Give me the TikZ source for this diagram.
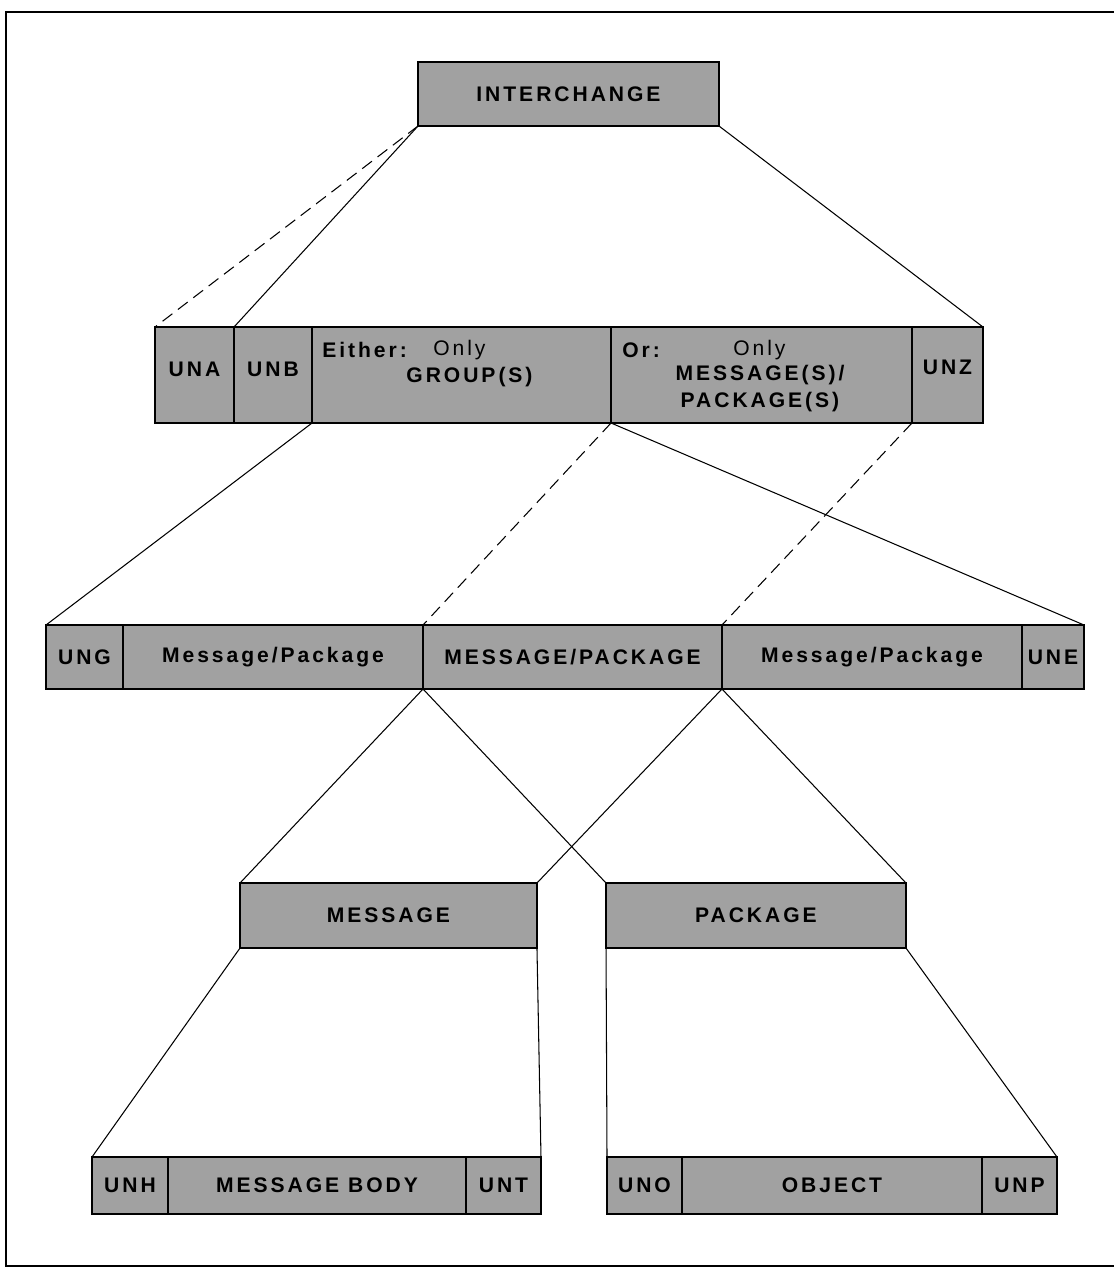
\documentclass[tikz,border=0pt]{standalone}
\usepackage{fontspec}
\setmainfont{Liberation Sans}[LetterSpace=14]
\usepackage{tikz}

\tikzset{
  cell/.style={shape=rectangle,draw=black,line width=0.8pt,fill=black!37,inner sep=0pt,outer sep=0pt,font=\bfseries},
  word/.style={inner sep=0pt,font=\bfseries},
  link/.style={line width=0.6pt},
  dlink/.style={line width=0.6pt,dash pattern=on 7pt off 4pt}
}

\begin{document}
\begin{tikzpicture}[x=0.02cm,y=-0.02cm,every node/.append style={text=black}]
\fontsize{12}{14.8}\selectfont
\useasboundingbox (0,0) rectangle (1114,1269);
\draw[line width=1.1pt] (1114,12) -- (6,12) -- (6,1266) -- (1114,1266);
% level 1
\node[cell,minimum width=6.02cm,minimum height=1.28cm] (inter) at (568.5,94) {INTERCHANGE};
% level 2
\node[cell,minimum width=1.58cm,minimum height=1.92cm] (una) at (194.5,375) {\raisebox{6pt}{UNA}};
\node[cell,minimum width=1.56cm,minimum height=1.92cm] (unb) at (273,375) {\raisebox{6pt}{UNB}};
\node[cell,minimum width=5.98cm,minimum height=1.92cm] (either) at (461.5,375) {};
\node[cell,minimum width=6.02cm,minimum height=1.92cm] (or) at (761.5,375) {};
\node[cell,minimum width=1.42cm,minimum height=1.92cm] (unz) at (947.5,375) {\raisebox{9pt}{UNZ}};
\node[word,anchor=west] (eitherw) at (322,350) {Either:};
\node[anchor=west,inner sep=0pt] (eitheronly) at (433,350) {Only};
\node[word] (groups) at (469.5,377) {GROUP(S)};
\node[word,anchor=west] (orw) at (622,350) {Or:};
\node[anchor=west,inner sep=0pt] (oronly) at (733,350) {Only};
\node[word] (messages) at (760,375) {MESSAGE(S)/};
\node[word] (packages) at (760,402) {PACKAGE(S)};
% level 3
\node[cell,minimum width=1.54cm,minimum height=1.28cm] (ung) at (84.5,657) {UNG};
\node[cell,minimum width=6.00cm,minimum height=1.28cm] (mpa) at (273,657) {Message/Package};
\node[cell,minimum width=5.98cm,minimum height=1.28cm] (mp) at (572.5,657) {MESSAGE/PACKAGE};
\node[cell,minimum width=6.00cm,minimum height=1.28cm] (mpb) at (872,657) {Message/Package};
\node[cell,minimum width=1.24cm,minimum height=1.28cm] (une) at (1053,657) {UNE};
% level 4
\node[cell,minimum width=5.94cm,minimum height=1.30cm] (msg) at (388.5,915.5) {MESSAGE};
\node[cell,minimum width=6.00cm,minimum height=1.30cm] (pkg) at (756,915.5) {PACKAGE};
% level 5
\node[cell,minimum width=1.52cm,minimum height=1.14cm] (unh) at (130,1185.5) {UNH};
\node[cell,minimum width=5.96cm,minimum height=1.14cm] (body) at (317,1185.5) {MESSAGE BODY};
\node[cell,minimum width=1.50cm,minimum height=1.14cm] (unt) at (503.5,1185.5) {UNT};
\node[cell,minimum width=1.50cm,minimum height=1.14cm] (uno) at (644.5,1185.5) {UNO};
\node[cell,minimum width=6.00cm,minimum height=1.14cm] (obj) at (832,1185.5) {OBJECT};
\node[cell,minimum width=1.50cm,minimum height=1.14cm] (unp) at (1019.5,1185.5) {UNP};
% connectors
\path [dlink] (inter.south west) edge (una.north west);
\path [link] (inter.south west) edge (unb.north west);
\path [link] (inter.south east) edge (unz.north east);
\path [link] (either.south west) edge (ung.north west);
\path [dlink] (or.south west) edge (mp.north west);
\path [link] (or.south west) edge (une.north east);
\path [dlink] (unz.south west) edge (mp.north east);
\path [link] (mp.south west) edge (msg.north west);
\path [link] (mp.south west) edge (pkg.north west);
\path [link] (mp.south east) edge (msg.north east);
\path [link] (mp.south east) edge (pkg.north east);
\path [link] (msg.south west) edge (unh.north west);
\path [link] (msg.south east) edge (unt.north east);
\path [link] (pkg.south west) edge (uno.north west);
\path [link] (pkg.south east) edge (unp.north east);
\end{tikzpicture}
\end{document}
